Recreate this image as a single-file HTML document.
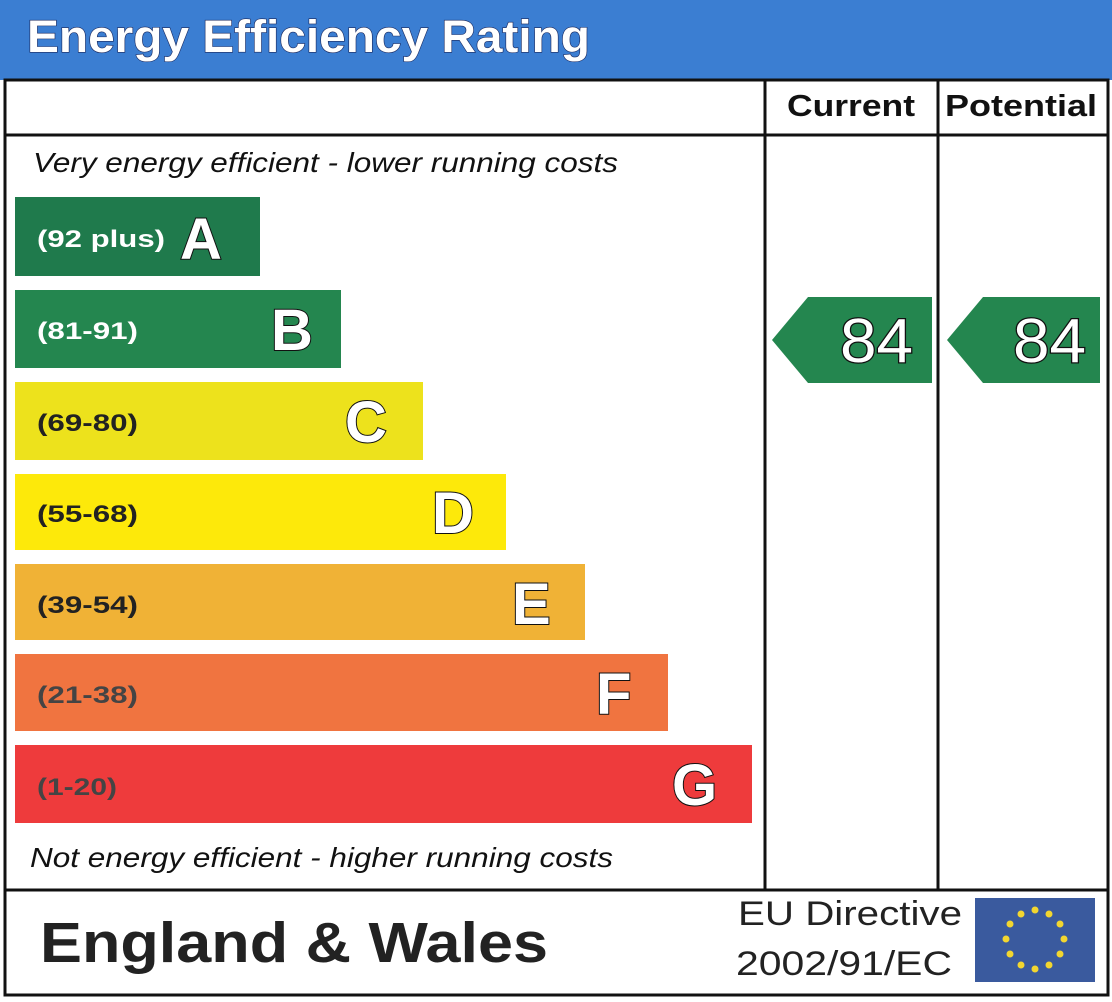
<!DOCTYPE html>
<html><head><meta charset="utf-8"><style>
html,body{margin:0;padding:0;background:#fff;width:1112px;height:1002px;overflow:hidden}
svg{display:block}
text{font-family:"Liberation Sans",Arial,sans-serif}
</style></head><body>
<svg width="1112" height="1002" viewBox="0 0 1112 1002" xmlns="http://www.w3.org/2000/svg">
<rect x="0" y="0" width="1112" height="80" fill="#3b7ed2"/>
<text x="27" y="52" font-size="45" font-weight="bold" fill="#fff" stroke="#1a2a60" stroke-width="1.2" paint-order="stroke" textLength="563" lengthAdjust="spacingAndGlyphs">Energy Efficiency Rating</text>
<g fill="none" stroke="#111" stroke-width="3">
<rect x="5" y="80" width="1103" height="915"/>
<line x1="5" y1="135" x2="1108" y2="135"/>
<line x1="765" y1="80" x2="765" y2="890"/>
<line x1="938" y1="80" x2="938" y2="890"/>
<line x1="5" y1="890" x2="1108" y2="890"/>
</g>
<text x="787" y="116" font-size="31" font-weight="bold" fill="#111" textLength="128" lengthAdjust="spacingAndGlyphs">Current</text>
<text x="945" y="116" font-size="31" font-weight="bold" fill="#111" textLength="152" lengthAdjust="spacingAndGlyphs">Potential</text>
<text x="33" y="172" font-size="28" font-style="italic" fill="#111" textLength="585" lengthAdjust="spacingAndGlyphs">Very energy efficient - lower running costs</text>
<text x="30" y="867" font-size="28" font-style="italic" fill="#111" textLength="583" lengthAdjust="spacingAndGlyphs">Not energy efficient - higher running costs</text>
<g font-weight="bold">
<rect x="15" y="197" width="245" height="79" fill="#1f7a4c"/>
<text x="37" y="247" font-size="24" fill="#fff" textLength="128" lengthAdjust="spacingAndGlyphs">(92 plus)</text>
<text x="180" y="259" font-size="58" fill="#fff" stroke="#111" stroke-width="2" paint-order="stroke">A</text>
<rect x="15" y="290" width="326" height="78" fill="#24864f"/>
<text x="37" y="339" font-size="24" fill="#fff" textLength="101" lengthAdjust="spacingAndGlyphs">(81-91)</text>
<text x="271" y="350" font-size="58" fill="#fff" stroke="#111" stroke-width="2" paint-order="stroke">B</text>
<rect x="15" y="382" width="408" height="78" fill="#ede21c"/>
<text x="37" y="431" font-size="24" fill="#222" textLength="101" lengthAdjust="spacingAndGlyphs">(69-80)</text>
<text x="345" y="442" font-size="58" fill="#fff" stroke="#111" stroke-width="2" paint-order="stroke">C</text>
<rect x="15" y="474" width="491" height="76" fill="#fde90a"/>
<text x="37" y="522" font-size="24" fill="#222" textLength="101" lengthAdjust="spacingAndGlyphs">(55-68)</text>
<text x="432" y="533" font-size="58" fill="#fff" stroke="#111" stroke-width="2" paint-order="stroke">D</text>
<rect x="15" y="564" width="570" height="76" fill="#f0b236"/>
<text x="37" y="613" font-size="24" fill="#222" textLength="101" lengthAdjust="spacingAndGlyphs">(39-54)</text>
<text x="512" y="624" font-size="58" fill="#fff" stroke="#111" stroke-width="2" paint-order="stroke">E</text>
<rect x="15" y="654" width="653" height="77" fill="#f07440"/>
<text x="37" y="703" font-size="24" fill="#444" textLength="101" lengthAdjust="spacingAndGlyphs">(21-38)</text>
<text x="596" y="714" font-size="58" fill="#fff" stroke="#111" stroke-width="2" paint-order="stroke">F</text>
<rect x="15" y="745" width="737" height="78" fill="#ee3b3c"/>
<text x="37" y="795" font-size="24" fill="#444" textLength="80" lengthAdjust="spacingAndGlyphs">(1-20)</text>
<text x="672" y="805" font-size="58" fill="#fff" stroke="#111" stroke-width="2" paint-order="stroke">G</text>
</g>
<polygon points="772,340 808,297 932,297 932,383 808,383" fill="#24864f"/>
<text x="840" y="362" font-size="62" fill="#fff" stroke="#111" stroke-width="2.5" paint-order="stroke" textLength="73" lengthAdjust="spacingAndGlyphs">84</text>
<polygon points="947,340 983,297 1100,297 1100,383 983,383" fill="#24864f"/>
<text x="1013" y="362" font-size="62" fill="#fff" stroke="#111" stroke-width="2.5" paint-order="stroke" textLength="73" lengthAdjust="spacingAndGlyphs">84</text>
<text x="40" y="962" font-size="57" font-weight="bold" fill="#222" textLength="508" lengthAdjust="spacingAndGlyphs">England &amp; Wales</text>
<text x="738" y="925" font-size="34" fill="#222" textLength="224" lengthAdjust="spacingAndGlyphs">EU Directive</text>
<text x="736" y="975" font-size="34" fill="#222" textLength="216" lengthAdjust="spacingAndGlyphs">2002/91/EC</text>
<rect x="975" y="898" width="120" height="84" fill="#3a5a9e"/>
<g fill="#f2d630">
<circle cx="1035" cy="910" r="3.5"/><circle cx="1049" cy="914" r="3.5"/><circle cx="1060" cy="924" r="3.5"/>
<circle cx="1064" cy="939" r="3.5"/><circle cx="1060" cy="954" r="3.5"/><circle cx="1049" cy="965" r="3.5"/>
<circle cx="1035" cy="969" r="3.5"/><circle cx="1021" cy="965" r="3.5"/><circle cx="1010" cy="954" r="3.5"/>
<circle cx="1006" cy="939" r="3.5"/><circle cx="1010" cy="924" r="3.5"/><circle cx="1021" cy="914" r="3.5"/>
</g>
</svg>
</body></html>
